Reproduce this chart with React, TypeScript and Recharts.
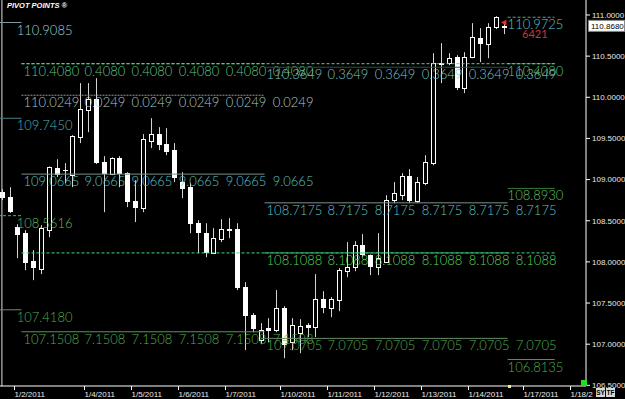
import React from 'react';
import { ComposedChart, Bar, XAxis, YAxis, ReferenceLine } from 'recharts';

// 4-hour candles (slot index = position on the time axis)
const opens = [
  108.847, 108.786, 108.422, 108.349, 108.009, 107.912, 108.386, 109.139, 109.115, 109.054,
  109.515, 109.843, 109.977, 109.212, 109.066, 109.26, 109.078, 108.738, 108.653, 109.467,
  109.552, 109.43, 109.358, 108.969, 108.908, 108.47, 108.349, 108.106, 108.276, 108.398,
  108.398, 107.693, 107.353, 107.049, 107.195, 107.171, 107.438, 107.025, 107.134, 107.231,
  107.207, 107.547, 107.438, 107.535, 107.887, 107.936, 108.203, 108.082, 107.936, 107.997,
  108.75, 108.811, 109.042, 108.738, 108.957, 109.2, 110.415, 110.415, 110.487, 110.111,
  110.487, 110.718, 110.645, 110.852, 110.852,
];
const highs = [
  108.884, 108.908, 108.458, 108.386, 108.143, 108.446, 109.16, 109.248, 109.2, 109.54,
  110.172, 110.172, 110.232, 109.285, 109.27, 109.285, 109.09, 108.993, 109.552, 109.746,
  109.637, 109.625, 109.443, 109.09, 108.957, 108.507, 108.47, 108.41, 108.519, 108.531,
  108.47, 107.754, 107.377, 107.256, 107.316, 107.657, 107.462, 107.316, 107.304, 107.256,
  107.851, 107.644, 107.572, 107.924, 108.24, 108.252, 108.337, 108.09, 108.349, 108.811,
  108.969, 109.078, 109.127, 109.03, 109.297, 110.536, 110.658, 110.536, 110.512, 110.548,
  110.901, 110.84, 110.901, 110.985, 110.901,
];
const lows = [
  108.75, 108.595, 108.045, 107.899, 107.778, 107.851, 108.3, 109.03, 108.957, 108.908,
  109.443, 109.576, 109.19, 108.604, 109.054, 108.908, 108.665, 108.483, 108.604, 109.382,
  109.358, 109.297, 108.969, 108.774, 108.349, 108.106, 108.057, 108.095, 108.24, 108.288,
  107.657, 106.928, 107.146, 107.0, 107.025, 107.146, 106.83, 106.928, 106.891, 107.086,
  107.086, 107.377, 107.328, 107.401, 107.814, 107.887, 108.057, 107.839, 107.839, 107.985,
  108.714, 108.75, 108.714, 108.714, 108.932, 109.175, 110.172, 110.39, 110.087, 110.05,
  110.475, 110.427, 110.475, 110.828, 110.767,
];
const closes = [
  108.774, 108.604, 108.325, 107.985, 107.924, 108.41, 109.151, 109.054, 109.102, 109.528,
  109.856, 109.977, 109.2, 109.066, 109.26, 109.066, 108.726, 108.653, 109.491, 109.552,
  109.418, 109.333, 109.017, 108.884, 108.458, 108.349, 108.106, 108.288, 108.398, 108.373,
  107.681, 107.341, 107.183, 107.171, 107.158, 107.438, 106.988, 107.231, 107.219, 107.195,
  107.547, 107.438, 107.547, 107.899, 107.936, 108.203, 108.082, 107.936, 108.045, 108.75,
  108.835, 109.042, 108.738, 108.969, 109.212, 110.415, 110.39, 110.475, 110.111, 110.487,
  110.73, 110.645, 110.852, 110.973, 110.868,
];

const SLOT_COUNT = 75;

const dayTickSlots = [2, 11, 17, 23, 29, 36, 42, 48, 54, 60, 67, 73];
const dayTickLabels = [
  '1/2/2011', '1/4/2011', '1/5/2011', '1/6/2011', '1/7/2011', '1/10/2011',
  '1/11/2011', '1/12/2011', '1/13/2011', '1/14/2011', '1/17/2011', '1/18/2',
];

const priceTicks = [106.5, 107, 107.5, 108, 108.5, 109, 109.5, 110, 110.5, 111];
const lastPrice = 110.868;

// pivot levels, grouped by the period they are drawn over
const prevDayLevels = [110.9085, 109.745, 108.5616, 107.418];
const weekALevels = [110.408, 110.0249, 109.0665, 107.1508];
const weekBLevels = [110.3649, 108.7175, 108.1088, 107.0705];
const nextLevels = [110.9725, 110.408, 108.893, 106.8135];
const trendLevels = [110.408, 108.1088];

const weekADayStarts = [3, 9, 15, 21, 27, 33];
const weekBDayStarts = [34, 40, 46, 52, 58, 64];

// styles
const CHART_W = 625;
const CHART_H = 399;
const YAXIS_W = 39;
const MARGIN_LEFT = -2;
const SLOT_W = (CHART_W - YAXIS_W - MARGIN_LEFT) / SLOT_COUNT;
const LCD_FONT = "Lato, 'DejaVu Sans', sans-serif";
const AXIS_FONT = "'Liberation Sans', Arial, sans-serif";
const LEAD_W = 14; // width of the hidden "11" of each repeated label

const GREEN = '#4fae4f';
const DASH_GREEN = '#3fe07a';

const prevDayStyle = [
  { text: '#9fd3d3', stroke: '#7f9a9a' },
  { text: '#4fb3b3', stroke: '#4f7f7f' },
  { text: '#66b866', stroke: '#3fbf3f', dash: '3 2' },
  { text: GREEN, stroke: '#6a8a6a' },
];
const weekAStyle = [
  { text: '#5fc087', stroke: DASH_GREEN, dash: '3 2' },
  { text: '#a9c9c9', stroke: '#8a9a9a', dash: '2 1' },
  { text: '#58c2c8', stroke: '#7a9090' },
  { text: GREEN, stroke: '#6a8a6a' },
];
const weekBStyle = [
  { text: '#7fc3c3', stroke: '#3a4a4a' },
  { text: '#5cc3cc', stroke: '#7a9090' },
  { text: '#5cd05c', stroke: DASH_GREEN, dash: '3 2' },
  { text: GREEN, stroke: '#6a8a6a' },
];
const nextStyle = [
  { text: '#5cc6d2', stroke: '#6a9a9a', dash: '3 2' },
  { text: '#5fc087', stroke: DASH_GREEN, dash: '3 2' },
  { text: '#5cc05c', stroke: '#3a7a3a' },
  { text: GREEN, stroke: '#6a8a6a' },
];

const data = Array.from({ length: SLOT_COUNT }, (_, i) =>
  i < opens.length
    ? { i, open: opens[i], high: highs[i], low: lows[i], close: closes[i] }
    : { i }
);

const Candle = (props: any) => {
  const { x, y, width, height, payload } = props;
  if (!payload || payload.high === undefined || y == null) return null;
  const top = Math.min(y, y + height);
  const bottom = Math.max(y, y + height);
  const span = payload.high - payload.low || 1;
  const toY = (p: number) => top + ((payload.high - p) / span) * (bottom - top);
  const n = Math.round(x + width / 2);
  const bodyTop = Math.round(toY(Math.max(payload.open, payload.close)));
  const bodyBot = Math.round(toY(Math.min(payload.open, payload.close)));
  const bull = payload.close > payload.open;
  return (
    <g>
      <line x1={n + 0.5} x2={n + 0.5} y1={top} y2={bottom} stroke="#d4d4d4" />
      {bull ? (
        <rect x={n - 1.5} y={bodyTop + 0.5} width={4} height={Math.max(bodyBot - bodyTop, 1)} fill="#000" stroke="#fff" />
      ) : (
        <rect x={n - 2} y={bodyTop} width={5} height={Math.max(bodyBot - bodyTop, 1)} fill="#fff" />
      )}
    </g>
  );
};

const DayTick = (props: any) => {
  const { x, y, payload } = props;
  const k = dayTickSlots.indexOf(payload.value);
  const bx = Math.round(x - SLOT_W / 2) + 0.5;
  return (
    <g>
      <line x1={bx} x2={bx} y1={y} y2={y + 4} stroke="#fff" />
      <text x={bx} y={y + 10.5} fill="#e8e8e8" fontSize={8} fontFamily={AXIS_FONT}>
        {dayTickLabels[k]}
      </text>
    </g>
  );
};

// one label per day start; the leading "11" of every repeat disappears into the previous one
const rowLabel = (level: number, from: number, to: number, copies: number[], color: string, dx: number) =>
  (props: any) => {
    const vb = props.viewBox;
    if (!vb) return null;
    const w = vb.width / (to - from);
    const full = level.toFixed(4);
    return (
      <g>
        {copies.map((s, k) => (
          <text
            key={k}
            x={vb.x + (s - from) * w + dx + (k > 0 ? LEAD_W : 0)}
            y={vb.y + 12}
            fill={color}
            fontSize={13}
            fontWeight={300}
            fontFamily={LCD_FONT}
          >
            {k > 0 ? full.slice(2) : full}
          </text>
        ))}
      </g>
    );
  };

const priceTag = (props: any) => {
  const vb = props.viewBox;
  if (!vb) return null;
  const x = vb.x + vb.width + 2;
  return (
    <g>
      <rect x={x + 0.5} y={vb.y - 5.5} width={36} height={11} fill="#fff" stroke="#888" />
      <text x={x + 3} y={vb.y + 3} fill="#000" fontSize={8} fontFamily={AXIS_FONT}>
        {lastPrice.toFixed(4)}
      </text>
    </g>
  );
};

const pivotRow = (level: number, from: number, to: number, copies: number[] | null, st: any, dx: number, key: string) => (
  <ReferenceLine
    key={key}
    segment={[{ x: from, y: level }, { x: to, y: level }]}
    position="start"
    stroke={st.stroke}
    strokeDasharray={st.dash}
    ifOverflow="visible"
    label={copies ? rowLabel(level, from, to, copies, st.text, dx) : undefined}
  />
);

export default function App() {
  return (
    <div style={{ position: 'absolute', left: 0, top: 0, width: CHART_W, height: CHART_H, background: '#000', overflow: 'hidden' }}>
      <ComposedChart
        width={CHART_W}
        height={CHART_H}
        data={data}
        margin={{ top: 0, right: 0, bottom: 0, left: MARGIN_LEFT }}
      >
        <XAxis
          dataKey="i"
          type="category"
          ticks={dayTickSlots}
          interval={0}
          height={13}
          tickSize={0}
          tickMargin={0}
          axisLine={{ stroke: '#fff' }}
          tickLine={false}
          tick={<DayTick />}
        />
        <YAxis
          orientation="right"
          type="number"
          domain={[106.492, 111.182]}
          allowDataOverflow
          ticks={priceTicks}
          interval={0}
          width={YAXIS_W}
          tickSize={4}
          tickMargin={2}
          tickFormatter={(v: number) => v.toFixed(4)}
          axisLine={{ stroke: '#fff' }}
          tickLine={{ stroke: '#fff' }}
          tick={{ fill: '#e8e8e8', fontSize: 8, fontFamily: AXIS_FONT }}
        />
        <Bar
          dataKey={(d: any) => (d.high === undefined ? null : [d.low, d.high])}
          shape={<Candle />}
          isAnimationActive={false}
        />
        <ReferenceLine x={0} position="middle" stroke="#e0e0e0" ifOverflow="visible" />
        {trendLevels.map((lv, k) =>
          pivotRow(lv, 3, 71, null, { stroke: DASH_GREEN, dash: '3 2' }, 0, 'tr' + k)
        )}
        {prevDayLevels.map((lv, k) => pivotRow(lv, 0, 3, [2], prevDayStyle[k], 3, 'pd' + k))}
        {weekALevels.map((lv, k) => pivotRow(lv, 3, 34, weekADayStarts, weekAStyle[k], 2, 'wa' + k))}
        {weekBLevels.map((lv, k) => pivotRow(lv, 34, 65, weekBDayStarts, weekBStyle[k], 2, 'wb' + k))}
        {nextLevels.map((lv, k) => pivotRow(lv, 65, 71, [65], nextStyle[k], 0, 'nx' + k))}
        <ReferenceLine y={lastPrice} strokeOpacity={0} ifOverflow="visible" label={priceTag} />
      </ComposedChart>

      <div style={{ position: 'absolute', left: 7, top: 1, color: '#fff', fontFamily: AXIS_FONT, fontSize: 7.5, fontWeight: 700, fontStyle: 'italic' }}>
        PIVOT POINTS ®
      </div>
      <div style={{ position: 'absolute', left: 499, top: 17, color: '#e03030', fontFamily: AXIS_FONT, fontSize: 9 }}>◄</div>
      <div style={{ position: 'absolute', left: 522, top: 27, color: '#d83030', fontFamily: LCD_FONT, fontSize: 11 }}>6421</div>
      <div style={{ position: 'absolute', left: 581, top: 380, width: 6, height: 6, background: '#22dd22' }} />
      <div style={{ position: 'absolute', left: 508, top: 385, width: 3, height: 3, background: '#f0f080' }} />
      <div style={{ position: 'absolute', left: 596, top: 388, display: 'flex', gap: 1 }}>
        {['SY', 'TF'].map((t) => (
          <div key={t} style={{ width: 9, height: 9, background: '#d8d8d8', color: '#000', fontFamily: AXIS_FONT, fontSize: 6.5, fontWeight: 700, lineHeight: '9px', textAlign: 'center' }}>
            {t}
          </div>
        ))}
      </div>
    </div>
  );
}
